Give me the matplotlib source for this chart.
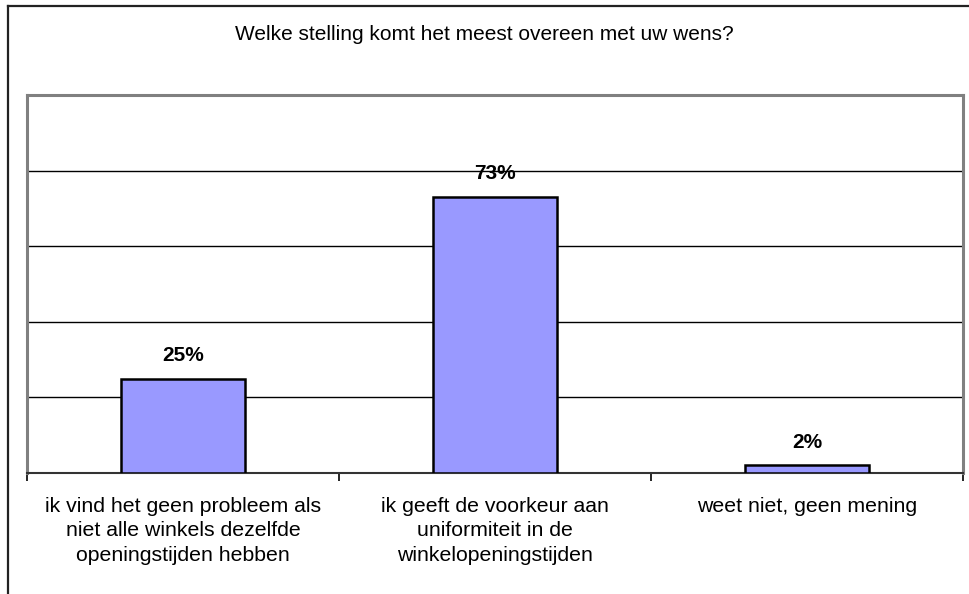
import matplotlib.pyplot as plt
from matplotlib.lines import Line2D

plt.rcParams['font.family'] = ['Liberation Sans', 'DejaVu Sans']

# Gegevens
categorieen = [
    "ik vind het geen probleem als\nniet alle winkels dezelfde\nopeningstijden hebben",
    "ik geeft de voorkeur aan\nuniformiteit in de\nwinkelopeningstijden",
    "weet niet, geen mening",
]
percentages = [25, 73, 2]
titel = "Welke stelling komt het meest overeen met uw wens?"

fig = plt.figure(figsize=(9.7, 5.94), dpi=100)
ax = fig.add_axes([27 / 970, 1 - 473 / 594, 936 / 970, 378 / 594])

x = range(len(categorieen))
ax.bar(x, percentages, width=0.4, color='#9999FF', edgecolor='black', linewidth=1.8, zorder=3)

for xi, p in zip(x, percentages):
    ax.annotate(f"{p}%", (xi, p), xytext=(0, 10), textcoords='offset points',
                ha='center', va='bottom', fontsize=15, fontweight='bold')

ax.set_xlim(-0.5, 2.5)
ax.set_ylim(0, 100)
ax.set_yticks([20, 40, 60, 80])
ax.tick_params(axis='y', length=0, labelleft=False)
ax.yaxis.grid(True, color='black', linewidth=1)
ax.set_axisbelow(True)

ax.set_xticks(list(x))
ax.set_xticklabels(categorieen, fontsize=15.3, linespacing=1.38, va='top')
ax.tick_params(axis='x', which='major', length=0, pad=17)
ax.set_xticks([-0.5, 0.5, 1.5, 2.5], minor=True)
ax.tick_params(axis='x', which='minor', length=6, width=1.2, direction='out', color='black')

for kant in ['left', 'top', 'right']:
    ax.spines[kant].set_color('#808080')
    ax.spines[kant].set_linewidth(2.2)
ax.spines['bottom'].set_color('#333333')
ax.spines['bottom'].set_linewidth(1.5)

fig.text(484 / 970, 1 - 35 / 594, titel, ha='center', va='center', fontsize=15)

# buitenrand van de grafiek (links en boven zichtbaar)
fig.add_artist(Line2D([8 / 970, 8 / 970], [0, 1 - 6 / 594], color='#222222', linewidth=1.6))
fig.add_artist(Line2D([8 / 970, 1], [1 - 6 / 594, 1 - 6 / 594], color='#222222', linewidth=1.6))

fig.savefig('out.png', dpi=100)
